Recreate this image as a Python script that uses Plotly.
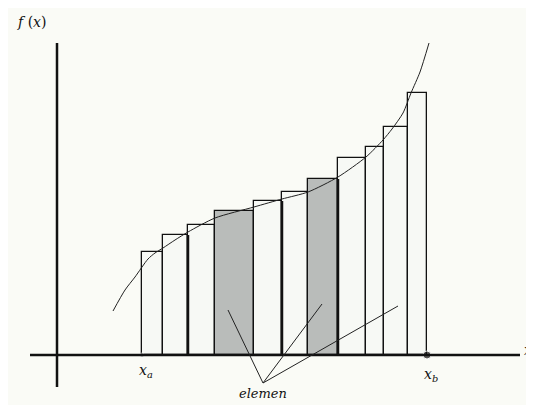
import plotly.graph_objects as go

# Riemann-sum elements (chart units: x from the vertical axis, y above baseline)
bar_edges = [85, 106, 131, 158, 197, 225, 251, 281, 309, 327, 351, 370]
bar_heights = [103, 120, 130, 144, 154, 163, 176, 197, 208, 228, 262]
shaded = [3, 6]
thick_edges = [131, 225, 281]

# curve f(x)
curve_x = [56, 68, 78, 91, 98, 106, 118, 131, 158, 197, 225, 251, 281, 309, 326, 335, 346, 354, 363, 372]
curve_y = [44, 65, 78, 96, 102, 107, 115, 123, 137, 148, 156, 163, 178, 198, 215, 226, 242, 262, 283, 312]

x_a, x_b = 85, 370

# pointers from the "elemen" label
pointer_from = (206, -28)
pointer_to_x = [171, 265, 341]
pointer_to_y = [45, 51, 49]

BG = "#fafbf6"
GRAY = "#b9bcba"
WHITE = "#f7f9f5"
INK = "#111111"
FONT = "DejaVu Serif"

centers = [(bar_edges[i] + bar_edges[i + 1]) / 2 for i in range(len(bar_heights))]
widths = [bar_edges[i + 1] - bar_edges[i] for i in range(len(bar_heights))]
colors = [GRAY if i in shaded else WHITE for i in range(len(bar_heights))]

fig = go.Figure()
fig.add_trace(go.Bar(x=centers, y=bar_heights, width=widths,
                     marker=dict(color=colors, line=dict(color=INK, width=1.3)),
                     showlegend=False, hoverinfo="skip"))

fig.add_trace(go.Scatter(x=curve_x, y=curve_y, mode="lines",
                         line=dict(color="#222", width=1, shape="spline", smoothing=0.7),
                         showlegend=False, hoverinfo="skip"))

shapes = []
# axes
shapes.append(dict(type="line", xref="x", yref="y", x0=-27, x1=463, y0=0, y1=0,
                   line=dict(color=INK, width=2.5)))
shapes.append(dict(type="line", xref="x", yref="y", x0=0, x1=0, y0=-32, y1=312,
                   line=dict(color=INK, width=2.5)))
for e in thick_edges:
    i = bar_edges.index(e)
    shapes.append(dict(type="line", xref="x", yref="y", x0=e, x1=e, y0=0,
                       y1=bar_heights[i - 1], line=dict(color=INK, width=2.5)))
for tx, ty in zip(pointer_to_x, pointer_to_y):
    shapes.append(dict(type="line", xref="x", yref="y", x0=pointer_from[0], y0=pointer_from[1],
                       x1=tx, y1=ty, line=dict(color="#222", width=1)))
fig.update_layout(shapes=shapes)

fig.add_trace(go.Scatter(x=[x_a, x_b], y=[0, 0], mode="markers",
                         marker=dict(color=INK, size=[4, 8]),
                         showlegend=False, hoverinfo="skip"))

font = dict(family=FONT, size=14, color=INK)
ann = [
    dict(x=-26, y=333, text="<i>f</i> (<i>x</i>)"),
    dict(x=89, y=-16, text="<i>x</i><sub><i>a</i></sub>"),
    dict(x=374, y=-20, text="<i>x</i><sub><i>b</i></sub>"),
    dict(x=206, y=-38, text="<i>elemen</i>", font=dict(family=FONT, size=13, color=INK)),
    dict(x=477, y=5, text="<i>x</i>", xanchor="right"),
]
fig.update_layout(annotations=[dict(dict(xref="x", yref="y", showarrow=False, font=font), **a) for a in ann])

# page body has an 8px margin: the figure covers window pixels 8..534 / 8..405
fig.update_layout(
    width=526, height=397, margin=dict(l=0, r=0, t=0, b=0),
    paper_bgcolor=BG, plot_bgcolor=BG, bargap=0,
    font=dict(family=FONT),
    xaxis=dict(range=[-49, 477], visible=False, fixedrange=True),
    yaxis=dict(range=[-50, 347], visible=False, fixedrange=True),
)

fig.write_html("out.html")
